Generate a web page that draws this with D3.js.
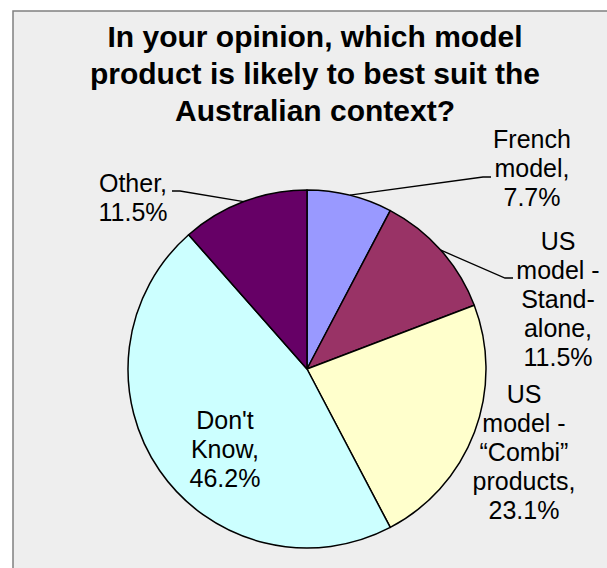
<!DOCTYPE html>
<html>
<head>
<meta charset="utf-8">
<script src="https://cdn.jsdelivr.net/npm/d3@7"></script>
<style>
  html, body { margin: 0; padding: 0; background: #ffffff; }
  svg { display: block; }
  text { font-family: "Liberation Sans", Arial, sans-serif; fill: #000; }
</style>
</head>
<body>
<script>
// Survey answers, in clockwise order from 12 o'clock
const categories = ["French model", "US model - Stand-alone", "US model - \u201CCombi\u201D products", "Don't Know", "Other"];
const shares = [7.7, 11.5, 23.1, 46.2, 11.5];
const sliceColors = ["#9999FF", "#993366", "#FFFFCC", "#CCFFFF", "#660066"];
// How each label's category text is wrapped
const labelLines = [
  ["French", "model,"],
  ["US", "model -", "Stand-", "alone,"],
  ["US", "model -", "\u201CCombi\u201D", "products,"],
  ["Don't", "Know,"],
  ["Other,"]
];
const titleLines = ["In your opinion, which model", "product is likely to best suit the", "Australian context?"];

const W = 607, H = 568;
const cx = 307, cy = 369, R = 179;

// Label placement: centre x, first baseline, and optional leader elbow/end
const labelLayout = [
  { x: 532, y: 148, elbow: [483, 177], end: [491, 177] },
  { x: 558, y: 250, elbow: [505, 278], end: [513, 278] },
  { x: 524, y: 403 },
  { x: 225, y: 429 },
  { x: 133, y: 192, elbow: [180, 191], end: [172, 191] }
];
const lineStep = 29;

const svg = d3.select("body").append("svg")
  .attr("width", W).attr("height", H);

// Chart area frame
svg.append("rect")
  .attr("x", 13).attr("y", 11)
  .attr("width", W + 50).attr("height", H + 50)
  .attr("fill", "#EEEEEE")
  .attr("stroke", "#808080")
  .attr("stroke-width", 1.5);

// Title
svg.append("text")
  .attr("text-anchor", "middle")
  .style("font-size", "30px")
  .style("font-weight", "bold")
  .selectAll("tspan")
  .data(titleLines)
  .join("tspan")
  .attr("x", 315)
  .attr("y", (d, i) => 47 + i * 37)
  .text(d => d);

const data = categories.map((c, i) => ({ cat: c, v: shares[i], color: sliceColors[i], lines: labelLines[i], layout: labelLayout[i] }));

const pie = d3.pie().sort(null).value(d => d.v);
const arcs = pie(data);
const arc = d3.arc().innerRadius(0).outerRadius(R);
const rim = d3.arc().innerRadius(R).outerRadius(R);

const g = svg.append("g").attr("transform", `translate(${cx},${cy})`);

g.selectAll("path.slice")
  .data(arcs)
  .join("path")
  .attr("class", "slice")
  .attr("d", arc)
  .attr("fill", d => d.data.color)
  .attr("stroke", "#000")
  .attr("stroke-width", 1.5)
  .attr("stroke-linejoin", "round");

// Leader lines from the slice rim to the label
arcs.filter(d => d.data.layout.elbow).forEach(d => {
  const [px, py] = rim.centroid(d);
  const L = d.data.layout;
  svg.append("polyline")
    .attr("points", [[cx + px, cy + py], L.elbow, L.end].map(p => p.join(",")).join(" "))
    .attr("fill", "none")
    .attr("stroke", "#000")
    .attr("stroke-width", 1.3);
});

// Data labels: category lines followed by the percentage
arcs.forEach(d => {
  const L = d.data.layout;
  const lines = d.data.lines.concat([d.data.v.toFixed(1) + "%"]);
  svg.append("text")
    .attr("text-anchor", "middle")
    .style("font-size", "25px")
    .selectAll("tspan")
    .data(lines)
    .join("tspan")
    .attr("x", L.x)
    .attr("y", (t, i) => L.y + i * lineStep)
    .text(t => t);
});
</script>
</body>
</html>
